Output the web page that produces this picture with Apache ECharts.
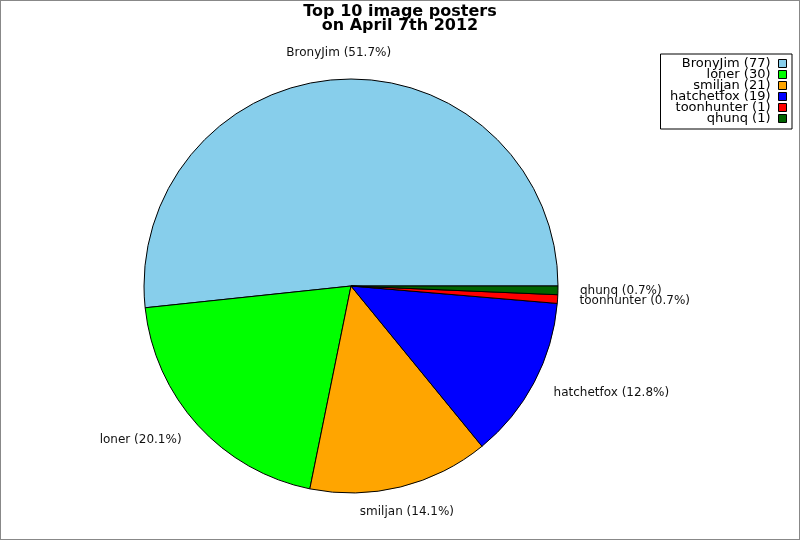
<!DOCTYPE html>
<html>
<head>
<meta charset="utf-8">
<script src="https://cdn.jsdelivr.net/npm/echarts@6/dist/echarts.min.js"></script>
<style>
  html, body { margin: 0; padding: 0; background: #fff; }
  #chart { width: 800px; height: 540px; box-sizing: border-box; border: 1px solid #888; }
</style>
</head>
<body>
<div id="chart"></div>
<script>
// 数据
const posters = ["BronyJim", "loner", "smiljan", "hatchetfox", "toonhunter", "qhunq"];
const imageCounts = [77, 30, 21, 19, 1, 1];
const sliceColors = ["#87CEEB", "#00FF00", "#FFA500", "#0000FF", "#FF0000", "#006400"];
// jpgraph-style label anchoring per slice
const labelAligns = ["center", "right", "center", "left", "left", "left"];
const labelGaps = [26, 22, 26, 22, 22, 22];

const chart = echarts.init(document.getElementById("chart"), null, { renderer: "canvas" });

chart.setOption({
    backgroundColor: "#fff",
    animation: false,
    title: {
        text: "Top 10 image posters\non April 7th 2012",
        left: "center", top: -1,
        textStyle: { fontFamily: "DejaVu Sans", fontSize: 16, fontWeight: "bold", color: "#000", lineHeight: 14 }
    },
    legend: {
        orient: "vertical", right: 7, top: 53, align: "right",
        backgroundColor: "#fff", borderColor: "#000", borderWidth: 1,
        padding: [3, 5, 4, 6], itemGap: -2, itemWidth: 8, itemHeight: 8,
        icon: "rect",
        itemStyle: { borderColor: "#000", borderWidth: 1 },
        formatter: name => `{n|${name} (${imageCounts[posters.indexOf(name)]})}`,
        textStyle: {
            fontSize: 13, lineHeight: 11,
            rich: { n: { fontFamily: "DejaVu Sans", fontSize: 13, color: "#000", width: 104, align: "right", lineHeight: 11, height: 11, padding: [0, 3, 0, 0] } }
        },
        data: posters
    },
    series: [{
        type: "pie",
        center: [350, 285],
        radius: 207,
        startAngle: 0,
        clockwise: false,
        avoidLabelOverlap: false,
        itemStyle: { borderColor: "#000", borderWidth: 1 },
        label: {
            show: true, position: "outside",
            distanceToLabelLine: 0,
            fontFamily: "DejaVu Sans", fontSize: 12, color: "#111",
            formatter: p => `${p.name} (${p.percent.toFixed(1)}%)`
        },
        labelLine: { show: false, length: 22, length2: 0 },
        labelLayout: p => ({ align: labelAligns[p.dataIndex], verticalAlign: "middle" }),
        emphasis: { disabled: true },
        data: posters.map((n, i) => ({
            name: n, value: imageCounts[i],
            itemStyle: { color: sliceColors[i] },
            labelLine: { show: false, length: labelGaps[i], length2: 0 }
        }))
    }]
});
</script>
</body>
</html>
